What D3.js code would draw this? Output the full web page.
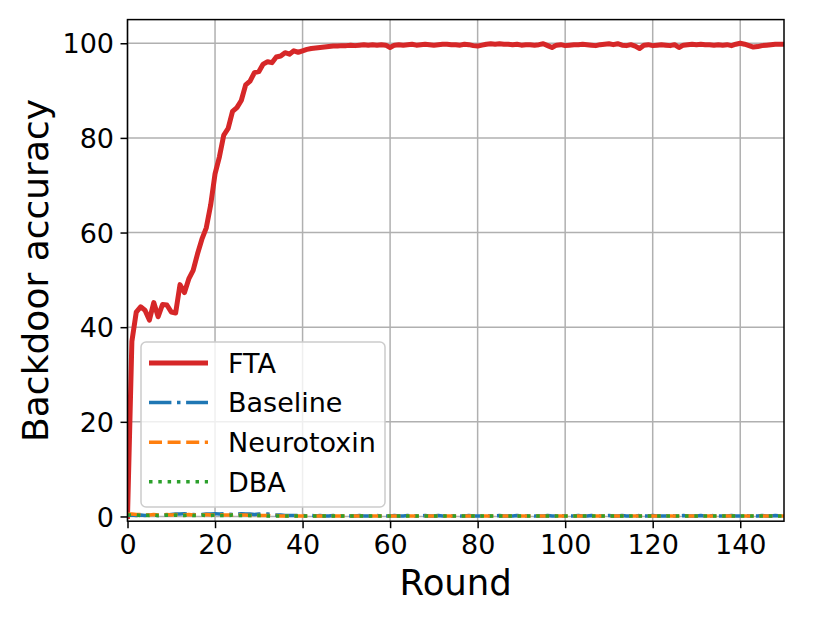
<!DOCTYPE html>
<html>
<head>
<meta charset="utf-8">
<script src="https://cdn.jsdelivr.net/npm/d3@7"></script>
<style>
  body { margin: 0; background: #fff; }
  text { font-family: "DejaVu Sans", sans-serif; fill: #000; }
</style>
</head>
<body>
<script>
// rounds 0..150
let rounds = d3.range(0, 151);

let fta = [
  0, 37, 43.2, 44.3, 43.6, 41.5, 45.2, 42.2, 44.8, 44.7,
  43.2, 43.0, 49.0, 47.3, 50.2, 52.0, 55.5, 58.6, 61.0, 65.8,
  72.4, 76.0, 80.6, 82.0, 85.6, 86.4, 87.9, 91.2, 92.0, 93.8,
  94.0, 95.6, 96.1, 95.9, 97.1, 97.3, 98.0, 97.7, 98.4, 98.1,
  98.4, 98.7, 98.9, 99.0, 99.1, 99.2, 99.3, 99.4, 99.4, 99.5,
  99.5, 99.6, 99.5, 99.6, 99.7, 99.6, 99.7, 99.6, 99.7, 99.6,
  99.1, 99.6, 99.7, 99.6, 99.7, 99.8, 99.6, 99.7, 99.8, 99.7,
  99.6, 99.7, 99.8, 99.8, 99.7, 99.7, 99.6, 99.8, 99.7, 99.5,
  99.4, 99.6, 99.8, 99.9, 99.8, 99.9, 99.8, 99.8, 99.7, 99.8,
  99.6, 99.7, 99.7, 99.6, 99.7, 99.9, 99.5, 99.1, 99.6, 99.7,
  99.5, 99.6, 99.7, 99.7, 99.8, 99.7, 99.6, 99.5, 99.7, 99.8,
  99.9, 99.7, 99.9, 99.6, 99.5, 99.7, 99.4, 98.9, 99.6, 99.7,
  99.5, 99.6, 99.7, 99.6, 99.5, 99.7, 99.1, 99.6, 99.7, 99.8,
  99.7, 99.8, 99.7, 99.7, 99.6, 99.7, 99.6, 99.7, 99.5, 99.8,
  100, 99.8, 99.5, 99.2, 99.3, 99.5, 99.6, 99.7, 99.8, 99.8,
  99.8
];

let baseline = [
  0.2, 0.3, 0.2, 0.3, 0.2, 0.3, 0.3, 0.2, 0.3, 0.3,
  0.4, 0.5, 0.5, 0.6, 0.5, 0.4, 0.3, 0.4, 0.5, 0.5,
  0.6, 0.5, 0.6, 0.5, 0.4, 0.5, 0.6, 0.5, 0.5, 0.4,
  0.5, 0.6, 0.5, 0.4, 0.3, 0.3, 0.2, 0.2, 0.2, 0.2,
  0.2, 0.1, 0.2, 0.1, 0.2, 0.1, 0.1, 0.2, 0.1, 0.1,
  0.2, 0.1, 0.1, 0.2, 0.1, 0.1, 0.1, 0.2, 0.1, 0.1,
  0.1, 0.2, 0.1, 0.1, 0.2, 0.1, 0.1, 0.1, 0.2, 0.1,
  0.1, 0.2, 0.1, 0.1, 0.1, 0.2, 0.1, 0.1, 0.2, 0.1,
  0.1, 0.1, 0.2, 0.1, 0.1, 0.2, 0.1, 0.1, 0.1, 0.2,
  0.1, 0.1, 0.2, 0.1, 0.1, 0.1, 0.2, 0.1, 0.1, 0.2,
  0.1, 0.1, 0.1, 0.2, 0.1, 0.1, 0.2, 0.1, 0.1, 0.1,
  0.2, 0.1, 0.1, 0.2, 0.1, 0.1, 0.1, 0.2, 0.1, 0.1,
  0.2, 0.1, 0.1, 0.1, 0.2, 0.1, 0.1, 0.2, 0.1, 0.1,
  0.1, 0.2, 0.1, 0.1, 0.2, 0.1, 0.1, 0.1, 0.2, 0.1,
  0.1, 0.2, 0.1, 0.1, 0.1, 0.2, 0.1, 0.1, 0.2, 0.1,
  0.1
];

let neurotoxin = [
  0.5, 0.5, 0.4, 0.4, 0.3, 0.3, 0.4, 0.3, 0.3, 0.4,
  0.3, 0.4, 0.3, 0.3, 0.4, 0.3, 0.3, 0.3, 0.4, 0.3,
  0.3, 0.4, 0.3, 0.3, 0.3, 0.4, 0.3, 0.3, 0.2, 0.2,
  0.2, 0.2, 0.2, 0.1, 0.2, 0.1, 0.1, 0.1, 0.1, 0.1,
  0.1, 0.1, 0.1, 0.1, 0.1, 0.1, 0.1, 0.1, 0.1, 0.1,
  0.1, 0.1, 0.1, 0.1, 0.1, 0.1, 0.1, 0.1, 0.1, 0.1,
  0.1, 0.1, 0.1, 0.1, 0.1, 0.1, 0.1, 0.1, 0.1, 0.1,
  0.1, 0.1, 0.1, 0.1, 0.1, 0.1, 0.1, 0.1, 0.1, 0.1,
  0.1, 0.1, 0.1, 0.1, 0.1, 0.1, 0.1, 0.1, 0.1, 0.1,
  0.1, 0.1, 0.1, 0.1, 0.1, 0.1, 0.1, 0.1, 0.1, 0.1,
  0.1, 0.1, 0.1, 0.1, 0.1, 0.1, 0.1, 0.1, 0.1, 0.1,
  0.1, 0.1, 0.1, 0.1, 0.1, 0.1, 0.1, 0.1, 0.1, 0.1,
  0.1, 0.1, 0.1, 0.1, 0.1, 0.1, 0.1, 0.1, 0.1, 0.1,
  0.1, 0.1, 0.1, 0.1, 0.1, 0.1, 0.1, 0.1, 0.1, 0.1,
  0.1, 0.1, 0.1, 0.1, 0.1, 0.1, 0.1, 0.1, 0.1, 0.1,
  0.1
];

let dba = [
  0.3, 0.3, 0.3, 0.2, 0.3, 0.2, 0.3, 0.2, 0.2, 0.3,
  0.2, 0.3, 0.2, 0.2, 0.3, 0.2, 0.2, 0.3, 0.2, 0.2,
  0.3, 0.2, 0.2, 0.2, 0.3, 0.2, 0.2, 0.2, 0.2, 0.2,
  0.2, 0.2, 0.1, 0.1, 0.1, 0.1, 0.1, 0.1, 0.1, 0.1,
  0.1, 0.1, 0.1, 0.1, 0.1, 0.1, 0.1, 0.1, 0.1, 0.1,
  0.1, 0.1, 0.1, 0.1, 0.1, 0.1, 0.1, 0.1, 0.1, 0.1,
  0.1, 0.1, 0.1, 0.1, 0.1, 0.1, 0.1, 0.1, 0.1, 0.1,
  0.1, 0.1, 0.1, 0.1, 0.1, 0.1, 0.1, 0.1, 0.1, 0.1,
  0.1, 0.1, 0.1, 0.1, 0.1, 0.1, 0.1, 0.1, 0.1, 0.1,
  0.1, 0.1, 0.1, 0.1, 0.1, 0.1, 0.1, 0.1, 0.1, 0.1,
  0.1, 0.1, 0.1, 0.1, 0.1, 0.1, 0.1, 0.1, 0.1, 0.1,
  0.1, 0.1, 0.1, 0.1, 0.1, 0.1, 0.1, 0.1, 0.1, 0.1,
  0.1, 0.1, 0.1, 0.1, 0.1, 0.1, 0.1, 0.1, 0.1, 0.1,
  0.1, 0.1, 0.1, 0.1, 0.1, 0.1, 0.1, 0.1, 0.1, 0.1,
  0.1, 0.1, 0.1, 0.1, 0.1, 0.1, 0.1, 0.1, 0.1, 0.1,
  0.1
];

let xTicks = [0, 20, 40, 60, 80, 100, 120, 140];
let yTicks = [0, 20, 40, 60, 80, 100];

let seriesNames = ["FTA", "Baseline", "Neurotoxin", "DBA"];
let seriesValues = [fta, baseline, neurotoxin, dba];
let colors = ["#d62728", "#1f77b4", "#ff7f0e", "#2ca02c"];
let widths = [5, 3.5, 3.5, 3.5];
let dashes = [null, "22.4,5.6,3.5,5.6", "13,5.6", "3.5,5.8"];

let W = 830, H = 623;
let mLeft = 127.5, mRight = 784, mTop = 19.6, mBottom = 521.2;

let svg = d3.select("body").append("svg")
	.attr("width", W)
	.attr("height", H);

let x = d3.scaleLinear().domain([0, 150]).range([mLeft, mRight]);
let y = d3.scaleLinear().domain([-1, 105]).range([mBottom, mTop]);

svg.append("defs").append("clipPath").attr("id", "plotclip")
	.append("rect")
	.attr("x", mLeft).attr("y", mTop)
	.attr("width", mRight - mLeft).attr("height", mBottom - mTop);

// grid
let grid = svg.append("g");
xTicks.forEach(t =>
	grid.append("line")
	.attr("x1", x(t)).attr("x2", x(t))
	.attr("y1", mTop).attr("y2", mBottom)
	.attr("stroke", "#b0b0b0")
	.attr("stroke-width", 1.5)
);
yTicks.forEach(t =>
	grid.append("line")
	.attr("x1", mLeft).attr("x2", mRight)
	.attr("y1", y(t)).attr("y2", y(t))
	.attr("stroke", "#b0b0b0")
	.attr("stroke-width", 1.5)
);

// series
let line = d3.line()
	.x((d, i) => x(rounds[i]))
	.y(d => y(d));

let plot = svg.append("g").attr("clip-path", "url(#plotclip)");
for (var i = 0; i < seriesNames.length; i++) {
	let p = plot.append("path")
	.datum(seriesValues[i])
	.attr("d", line)
	.attr("fill", "none")
	.attr("stroke", colors[i])
	.attr("stroke-width", widths[i])
	.attr("stroke-linejoin", "round");
	if (dashes[i]) p.attr("stroke-dasharray", dashes[i]).attr("stroke-linecap", "butt");
	else p.attr("stroke-linecap", "square");
}

// axes
let xAxis = d3.axisBottom(x).tickValues(xTicks).tickSize(7).tickPadding(7);
let yAxis = d3.axisLeft(y).tickValues(yTicks).tickSize(7).tickPadding(6.5);

let gx = svg.append("g").attr("transform", `translate(0,${mBottom})`).call(xAxis);
let gy = svg.append("g").attr("transform", `translate(${mLeft},0)`).call(yAxis);

[gx, gy].forEach(g => {
	g.select(".domain").remove();
	g.selectAll(".tick line").attr("stroke", "#000").attr("stroke-width", 1.5);
	g.selectAll(".tick text")
	.attr("font-family", "DejaVu Sans")
	.attr("font-size", 27)
	.attr("fill", "#000");
});
gx.selectAll(".tick text").attr("dy", "0.71em");
gy.selectAll(".tick text").attr("dy", "0.36em");

// frame
svg.append("rect")
	.attr("x", mLeft).attr("y", mTop)
	.attr("width", mRight - mLeft).attr("height", mBottom - mTop)
	.attr("fill", "none")
	.attr("stroke", "#000")
	.attr("stroke-width", 1.5);

// axis labels
svg.append("text")
	.attr("x", (mLeft + mRight) / 2)
	.attr("y", 595)
	.attr("text-anchor", "middle")
	.attr("font-size", 35.5)
	.text("Round");

svg.append("text")
	.attr("transform", `translate(48,${(mTop + mBottom) / 2}) rotate(-90)`)
	.attr("text-anchor", "middle")
	.attr("font-size", 36)
	.text("Backdoor accuracy");

// legend
let lg = svg.append("g");
lg.append("rect")
	.attr("x", 141).attr("y", 342)
	.attr("width", 244).attr("height", 165)
	.attr("rx", 5)
	.attr("fill", "#fff")
	.attr("fill-opacity", 0.8)
	.attr("stroke", "#cccccc")
	.attr("stroke-width", 1.5);

for (var j = 0; j < seriesNames.length; j++) {
	let cy = 363 + j * 39.6;
	let l = lg.append("line")
	.attr("x1", 149).attr("x2", 208)
	.attr("y1", cy).attr("y2", cy)
	.attr("stroke", colors[j])
	.attr("stroke-width", widths[j]);
	if (dashes[j]) l.attr("stroke-dasharray", dashes[j]);
	lg.append("text")
	.attr("x", 228)
	.attr("y", cy)
	.attr("dy", "0.36em")
	.attr("font-size", 27)
	.text(seriesNames[j]);
}
</script>
</body>
</html>
